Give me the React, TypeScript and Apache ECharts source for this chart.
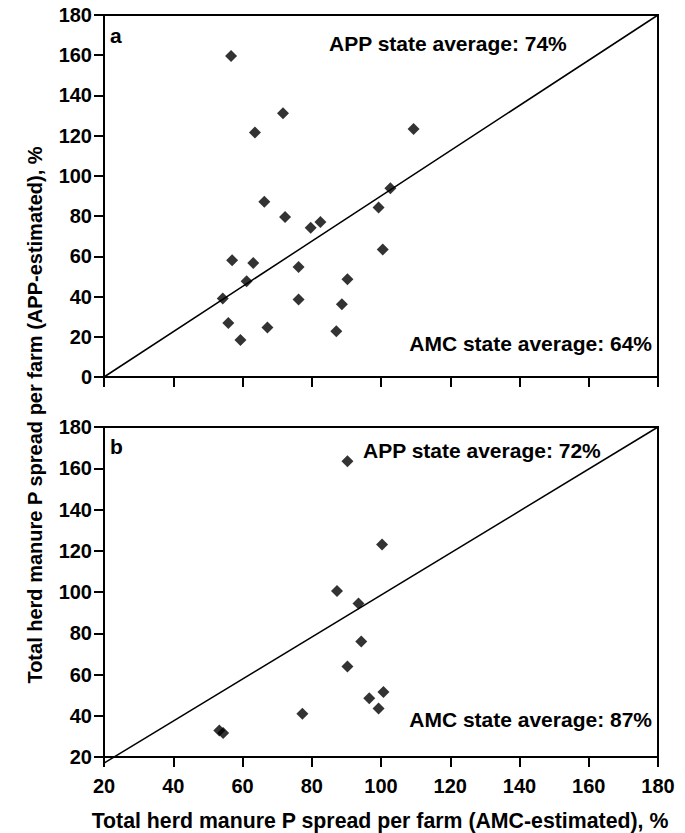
import React, { useEffect, useRef } from "react";
import * as echarts from "echarts";

// Panel a: AMC-estimated (x) vs APP-estimated (y), %
const panelAX = [56.7, 63.6, 71.7, 66.3, 72.3, 79.7, 82.5, 57.0, 63.1, 61.2, 76.2, 54.3, 76.2, 90.3, 88.7, 55.9, 59.4, 67.2, 87.1, 109.4, 102.7, 99.3, 100.5];
const panelAY = [159.6, 121.6, 131.1, 87.1, 79.6, 74.2, 77.1, 58.1, 56.7, 47.6, 54.7, 39.0, 38.5, 48.6, 36.2, 26.9, 18.4, 24.6, 22.7, 123.3, 93.8, 84.3, 63.4];

// Panel b
const panelBX = [90.3, 100.3, 87.3, 93.5, 94.3, 90.3, 77.3, 53.3, 54.4, 96.6, 100.7, 99.3];
const panelBY = [163.4, 123.0, 100.5, 94.4, 76.0, 63.9, 41.0, 32.9, 31.6, 48.5, 51.5, 43.5];

// Reference (1:1) lines as drawn in the figure
const lineA = [[20, 0], [180, 180]];
const lineB = [[20, 17], [180, 180]];

const xTicks = { min: 20, max: 180, interval: 20 };
const yTicksA = { min: 0, max: 180, interval: 20 };
const yTicksB = { min: 20, max: 180, interval: 20 };

const panelLabels = ["a", "b"];
const appAverages = ["APP state average: 74%", "APP state average: 72%"];
const amcAverages = ["AMC state average: 64%", "AMC state average: 87%"];
const xTitle = "Total herd manure P spread per farm (AMC-estimated), %";
const yTitle = "Total herd manure P spread per farm (APP-estimated), %";

const FONT = "Liberation Sans, Arial, sans-serif";

export default function App() {
  const ref = useRef<HTMLDivElement>(null);
  useEffect(() => {
    if (!ref.current) return;
    const chart = echarts.init(ref.current, undefined, { renderer: "svg" });
    const axisCommon = {
      axisLine: { show: true, lineStyle: { color: "#000", width: 2 } },
      axisTick: { show: true, length: 10, lineStyle: { color: "#000", width: 2 } },
      splitLine: { show: false },
    };
    const labelStyle = {
      color: "#000",
      fontWeight: "bold" as const,
      fontSize: 20,
      fontFamily: FONT,
    };
    const textStyle = (extra: any) => ({
      fill: "#000",
      fontWeight: "bold",
      fontSize: 21,
      fontFamily: FONT,
      verticalAlign: "middle",
      ...extra,
    });
    const toPairs = (xs: number[], ys: number[]) => xs.map((x, i) => [x, ys[i]]);
    chart.setOption({
      animation: false,
      backgroundColor: "#fff",
      grid: [
        { left: 104, top: 15, width: 554, height: 362, show: true, borderColor: "#000", borderWidth: 2, containLabel: false },
        { left: 104, top: 427, width: 554, height: 330, show: true, borderColor: "#000", borderWidth: 2, containLabel: false },
      ],
      xAxis: [
        { type: "value", gridIndex: 0, ...xTicks, ...axisCommon, axisLabel: { show: false } },
        { type: "value", gridIndex: 1, ...xTicks, ...axisCommon, axisLabel: { ...labelStyle, margin: 19 } },
      ],
      yAxis: [
        { type: "value", gridIndex: 0, ...yTicksA, ...axisCommon, axisLabel: { ...labelStyle, margin: 12 } },
        { type: "value", gridIndex: 1, ...yTicksB, ...axisCommon, axisLabel: { ...labelStyle, margin: 12 } },
      ],
      series: [
        {
          type: "line", xAxisIndex: 0, yAxisIndex: 0, data: lineA, symbol: "none",
          lineStyle: { color: "#000", width: 1.5 }, clip: false, z: 1,
        },
        {
          type: "line", xAxisIndex: 1, yAxisIndex: 1, data: lineB, symbol: "none",
          lineStyle: { color: "#000", width: 1.5 }, clip: false, z: 1,
        },
        {
          type: "scatter", xAxisIndex: 0, yAxisIndex: 0, data: toPairs(panelAX, panelAY),
          symbol: "diamond", symbolSize: 12, itemStyle: { color: "#000" }, z: 3,
        },
        {
          type: "scatter", xAxisIndex: 1, yAxisIndex: 1, data: toPairs(panelBX, panelBY),
          symbol: "diamond", symbolSize: 12, itemStyle: { color: "#000" }, z: 3,
        },
      ],
      graphic: [
        { type: "text", x: 110, y: 35, style: textStyle({ text: panelLabels[0], align: "left" }) },
        { type: "text", x: 110, y: 446, style: textStyle({ text: panelLabels[1], align: "left" }) },
        { type: "text", x: 329, y: 43, style: textStyle({ text: appAverages[0], align: "left" }) },
        { type: "text", x: 652, y: 343, style: textStyle({ text: amcAverages[0], align: "right" }) },
        { type: "text", x: 363, y: 450, style: textStyle({ text: appAverages[1], align: "left" }) },
        { type: "text", x: 652, y: 719, style: textStyle({ text: amcAverages[1], align: "right" }) },
        { type: "text", x: 380, y: 821, style: textStyle({ text: xTitle, align: "center", fontSize: 21.3 }) },
        { type: "text", x: 35, y: 415, rotation: Math.PI / 2, style: textStyle({ text: yTitle, align: "center", fontSize: 20 }) },
      ],
    });
    return () => chart.dispose();
  }, []);
  return (
    <div
      ref={ref}
      style={{ position: "absolute", left: 0, top: 0, width: 685, height: 833, background: "#fff" }}
    />
  );
}
